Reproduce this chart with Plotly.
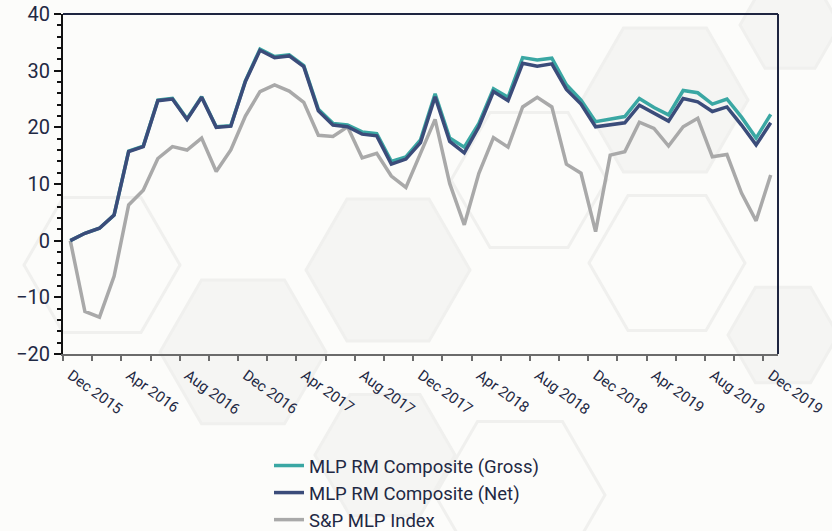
import plotly.graph_objects as go

# ---- data ----
month_index = list(range(49))  # Dec 2015 ... Dec 2019, monthly
gross = [0.0, 1.3, 2.2, 4.5, 15.8, 16.7, 24.8, 25.1, 21.5, 25.4, 20.1, 20.3, 28.2, 33.8,
         32.5, 32.8, 30.9, 23.2, 20.7, 20.4, 19.2, 18.9, 14.0, 14.8, 17.8, 25.9,
         18.1, 16.5, 20.7, 26.8, 25.3, 32.3, 31.9, 32.2, 27.5, 24.8, 21.0, 21.4, 21.9, 25.1,
         23.5, 22.2, 26.5, 26.1, 24.1, 25.0, 21.8, 18.1, 22.3]
net = [0.0, 1.3, 2.2, 4.5, 15.7, 16.6, 24.7, 25.0, 21.4, 25.3, 20.0, 20.2, 28.1, 33.6,
       32.3, 32.6, 30.7, 22.9, 20.4, 20.1, 18.8, 18.5, 13.5, 14.4, 17.3, 25.4,
       17.5, 15.5, 20.1, 26.3, 24.7, 31.3, 30.8, 31.2, 26.7, 24.1, 20.1, 20.5, 20.8, 23.9,
       22.5, 21.1, 25.1, 24.5, 22.8, 23.6, 20.4, 16.9, 20.8]
sp_mlp = [0.0, -12.5, -13.5, -6.3, 6.3, 8.9, 14.5, 16.6, 16.0, 18.1, 12.2, 16.0, 22.0, 26.3,
          27.5, 26.4, 24.4, 18.6, 18.4, 20.1, 14.6, 15.4, 11.4, 9.4, 15.4, 21.4,
          10.1, 2.8, 11.9, 18.2, 16.5, 23.6, 25.3, 23.6, 13.5, 11.9, 1.6, 15.1, 15.7, 20.9,
          19.8, 16.7, 20.1, 21.6, 14.8, 15.2, 8.4, 3.5, 11.6]
tick_labels = ["Dec 2015", "Apr 2016", "Aug 2016", "Dec 2016", "Apr 2017", "Aug 2017",
               "Dec 2017", "Apr 2018", "Aug 2018", "Dec 2018", "Apr 2019", "Aug 2019",
               "Dec 2019"]
series_names = ["MLP RM Composite (Gross)", "MLP RM Composite (Net)", "S&P MLP Index"]

# ---- style ----
W, H = 832, 531
ML, MR, MT, MB = 63, 54, 14, 177
PW, PH = W - ML - MR, H - MT - MB
TEXT = "#1f2944"
BG = "#fcfcfa"
C_GROSS = "#3aa7a3"
C_NET = "#3b4c7a"
C_SP = "#a9a9a9"
FONT = "Roboto"

tickvals = [v - 0.5 for v in range(0, 49, 2)]
ticktext = []
for k in range(len(tickvals)):
    ticktext.append(tick_labels[k // 2] if k % 2 == 0 else "")

fig = go.Figure()
fig.add_trace(go.Scatter(x=month_index, y=sp_mlp, mode="lines", name=series_names[2],
                         line=dict(color=C_SP, width=3.5), legendrank=3))
fig.add_trace(go.Scatter(x=month_index, y=gross, mode="lines", name=series_names[0],
                         line=dict(color=C_GROSS, width=3.5), legendrank=1))
fig.add_trace(go.Scatter(x=month_index, y=net, mode="lines", name=series_names[1],
                         line=dict(color=C_NET, width=3.5), legendrank=2))

# decorative background hexagons (pixel-based, converted to paper coords)
def px2paper(px, py):
    return (px - ML) / PW, (H - MB - py) / PH

def hexpath(cx, cy, r):
    s = r * 3 ** 0.5 / 2
    pts = [(cx - r, cy), (cx - r / 2, cy - s), (cx + r / 2, cy - s),
           (cx + r, cy), (cx + r / 2, cy + s), (cx - r / 2, cy + s)]
    pp = [px2paper(x, y) for x, y in pts]
    return "M " + " L ".join(f"{x:.4f},{y:.4f}" for x, y in pp) + " Z"

hexes = [
    (102, 265, 78, False),
    (243, 352, 83, True),
    (388, 270, 82, True),
    (665, 100, 83, True),
    (790, 25, 50, True),
    (783, 335, 55, True),
    (667, 263, 78, False),
    (529, 180, 78, False),
    (385, 455, 70, True),
    (520, 495, 85, False),
]
for cx, cy, r, filled in hexes:
    fig.add_shape(type="path", path=hexpath(cx, cy, r), xref="paper", yref="paper",
                  layer="below",
                  fillcolor="#f5f5f3" if filled else "rgba(0,0,0,0)",
                  line=dict(color="#f0f0ee", width=3))

# top and right frame
fig.add_shape(type="line", xref="paper", yref="paper", x0=0, x1=1, y0=1, y1=1,
              line=dict(color="#1e2540", width=2), layer="above")
fig.add_shape(type="line", xref="paper", yref="paper", x0=1, x1=1, y0=0, y1=1,
              line=dict(color="#1e2540", width=2), layer="above")

fig.update_layout(
    width=W, height=H,
    margin=dict(l=ML, r=MR, t=MT, b=MB, autoexpand=False),
    paper_bgcolor=BG,
    plot_bgcolor="rgba(0,0,0,0)",
    font=dict(family=FONT, color=TEXT),
    showlegend=True,
    legend=dict(x=(269 - ML) / PW, xanchor="left", y=(H - MB - 447) / PH, yanchor="top",
                orientation="v", bgcolor="rgba(0,0,0,0)",
                font=dict(family=FONT, size=18.5, color=TEXT), tracegroupgap=0),
    xaxis=dict(range=[-0.5, 48.5], tickmode="array", tickvals=tickvals, ticktext=ticktext,
               tickangle=36, showgrid=False, zeroline=False, automargin=False,
               showline=True, linecolor="#6b6b6b", linewidth=2,
               ticks="outside", ticklen=5, tickwidth=2, tickcolor="#6b6b6b",
               ticklabelshift=8,
               tickfont=dict(family=FONT, size=15, color=TEXT)),
    yaxis=dict(range=[-20, 40], dtick=10, showgrid=False, zeroline=False, automargin=False,
               showline=True, linecolor="#111111", linewidth=2,
               ticks="outside", ticklen=7, tickwidth=2, tickcolor="#111111",
               minor=dict(dtick=2, ticks="outside", ticklen=4, tickwidth=2,
                          tickcolor="#111111", showgrid=False),
               tickfont=dict(family=FONT, size=20, color=TEXT)),
)

fig.write_html("out.html", config={"displayModeBar": False},
               post_script="document.body.style.margin='0';document.body.style.background='#fcfcfa';")
